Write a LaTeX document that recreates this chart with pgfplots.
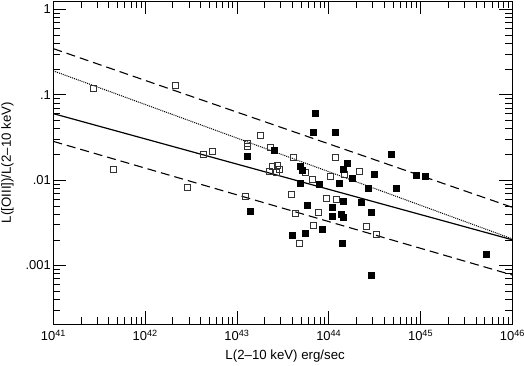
\documentclass[border=0pt]{standalone}
\usepackage{fontspec}
\setmainfont{Liberation Sans}
\usepackage{pgfplots}
\pgfplotsset{compat=1.18}
\begin{document}
\begin{tikzpicture}
\begin{axis}[
  scale only axis, width=459bp, height=323.3bp,
  xmode=log, ymode=log,
  xmin=1e41, xmax=1e46, ymin=2.05e-4, ymax=1.25,
  xtick={1e41,1e42,1e43,1e44,1e45,1e46},
  xticklabels={10\textsuperscript{41},10\textsuperscript{42},10\textsuperscript{43},10\textsuperscript{44},10\textsuperscript{45},10\textsuperscript{46}},
  minor xtick={2e41,3e41,4e41,5e41,6e41,7e41,8e41,9e41,2e42,3e42,4e42,5e42,6e42,7e42,8e42,9e42,2e43,3e43,4e43,5e43,6e43,7e43,8e43,9e43,2e44,3e44,4e44,5e44,6e44,7e44,8e44,9e44,2e45,3e45,4e45,5e45,6e45,7e45,8e45,9e45},
  ytick={0.001,0.01,0.1,1},
  yticklabels={.001,.01,.1,1},
  minor ytick={3e-4,4e-4,5e-4,6e-4,7e-4,8e-4,9e-4,2e-3,3e-3,4e-3,5e-3,6e-3,7e-3,8e-3,9e-3,2e-2,3e-2,4e-2,5e-2,6e-2,7e-2,8e-2,9e-2,0.2,0.3,0.4,0.5,0.6,0.7,0.8,0.9},
  tick align=inside,
  major tick length=13bp, minor tick length=7bp,
  tick style={black, line width=0.6bp},
  axis line style={black, line width=0.7bp},
  ticklabel style={font=\fontsize{13}{15}\selectfont},
  xticklabel style={yshift=-2bp},
  yticklabel style={xshift=1bp},
  xlabel={L(2–10 keV) erg/sec},
  ylabel={L([OIII])/L(2–10 keV)},
  label style={font=\fontsize{13.3}{15}\selectfont},
  xlabel style={at={(axis description cs:0.505,-0.0996)}, anchor=center},
  ylabel style={at={(axis description cs:-0.0998,0.5)}, anchor=center},
]
% regression lines
\addplot[black, line width=1.2bp] coordinates {(1e41,0.06) (1e46,0.002)};
\addplot[black, line width=1.1bp, dash pattern=on 9bp off 5bp] coordinates {(1e41,0.346) (1e46,0.0048)};
\addplot[black, line width=1.1bp, dash pattern=on 9bp off 5bp] coordinates {(1e41,0.0284) (1e46,0.000774)};
\addplot[black, line width=1bp, dash pattern=on 1bp off 1bp] coordinates {(1e41,0.19) (1e46,0.00205)};
% open squares
\addplot[only marks, mark=square, mark size=3bp, mark options={draw=black!80, line width=0.9bp}] coordinates {
(2.75e41,0.119) (4.51e41,0.01337) (2.13e42,0.130) (2.88e42,0.00824) (4.31e42,0.0198)
(5.36e42,0.0217) (1.25e43,0.00651) (1.30e43,0.0270) (1.30e43,0.0247) (1.82e43,0.0337)
(2.33e43,0.0239) (2.43e43,0.01435) (2.76e43,0.01503) (2.88e43,0.01337) (2.25e43,0.01254)
(2.67e43,0.01222) (3.88e43,0.00687) (4.11e43,0.0185) (4.35e43,0.00412) (4.75e43,0.00183)
(5.52e43,0.01222) (6.66e43,0.01021) (6.80e43,0.00294) (7.64e43,0.00423) (9.51e43,0.00612)
(1.05e44,0.01096) (1.19e44,0.0185) (1.22e44,0.00596) (1.47e44,0.01178) (2.14e44,0.01268)
(2.57e44,0.00290) (3.30e44,0.00234)
};
% filled squares
\addplot[only marks, mark=square*, mark size=3bp, mark options={draw=black, fill=black}] coordinates {
(1.30e43,0.0188) (1.41e43,0.00435) (2.54e43,0.0221) (4.86e43,0.01443) (5.08e43,0.01313)
(4.83e43,0.00918) (4.03e43,0.00228) (5.52e43,0.00240) (5.76e43,0.00511) (6.80e43,0.0359)
(7.10e43,0.0606) (7.89e43,0.00893) (8.55e43,0.00265) (1.08e44,0.00373) (1.10e44,0.00478)
(1.19e44,0.0359) (1.30e44,0.00908) (1.35e44,0.00398) (1.41e44,0.00183) (1.42e44,0.01337)
(1.44e44,0.00559) (1.45e44,0.00365) (1.58e44,0.01573) (1.78e44,0.01050) (2.23e44,0.00547)
(2.70e44,0.00802) (2.88e44,0.00420) (2.89e44,0.000774) (3.11e44,0.01160) (4.78e44,0.0200)
(5.37e44,0.00802) (8.89e44,0.01148) (1.13e45,0.01107) (5.18e45,0.00135)
};
\end{axis}
\pgfresetboundingbox
\path[use as bounding box] (-53.3bp,-41.7bp) rectangle (470.7bp,324.3bp);
\end{tikzpicture}
\end{document}
